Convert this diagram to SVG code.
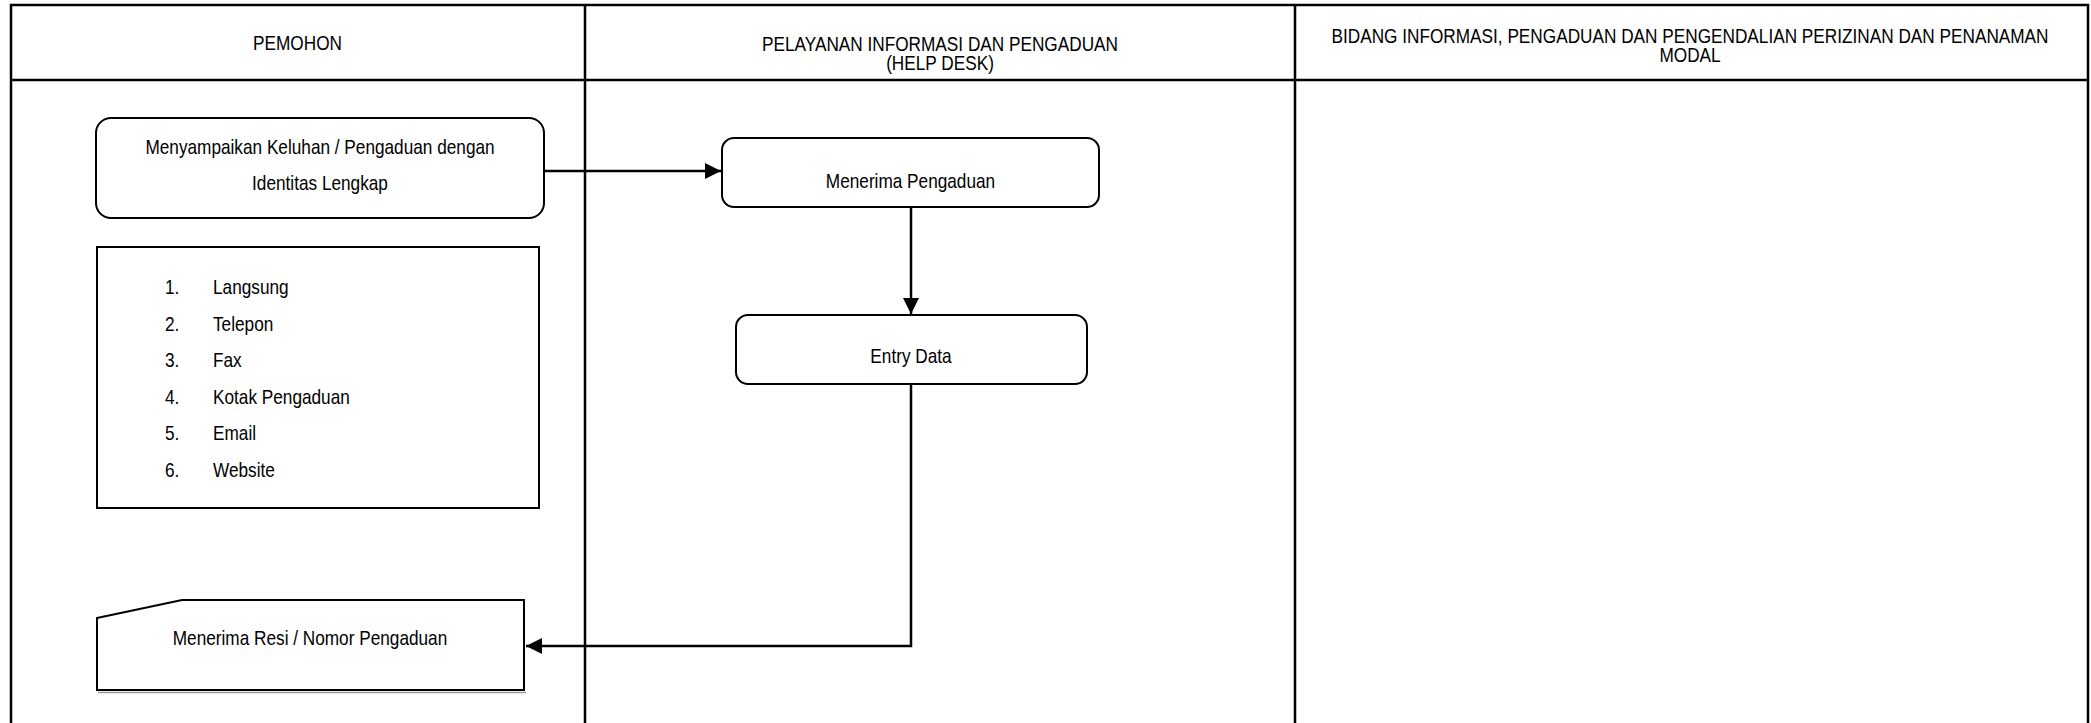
<svg xmlns="http://www.w3.org/2000/svg" width="2091" height="723" viewBox="0 0 2091 723">
<defs>
<style>
text{font-family:"Liberation Sans Narrow","Arial Narrow","Liberation Sans",Arial,sans-serif;font-size:21px;fill:#000}
.c{text-anchor:middle}
.lane{fill:none;stroke:#000;stroke-width:2.5}
.box{fill:#fff;stroke:#000;stroke-width:2}
.conn{fill:none;stroke:#000;stroke-width:2.5}
</style>
<marker id="arr" viewBox="0 0 10 10" refX="10" refY="5" markerWidth="16" markerHeight="16" markerUnits="userSpaceOnUse" orient="auto">
<path d="M0,0 L10,5 L0,10 Z" fill="#000"/>
</marker>
</defs>
<rect width="2091" height="723" fill="#fff"/>
<g id="lanes">
<path class="lane" d="M11,730 V5 H2088 V730"/>
<path class="lane" d="M11,80 H2088"/>
<path class="lane" d="M585,5 V730"/>
<path class="lane" d="M1295,5 V730"/>
<text class="c" transform="matrix(0.82 0 0 1 297.5 0)" x="0" y="50">PEMOHON</text>
<text class="c" transform="matrix(0.82 0 0 1 940 0)" x="0" y="51">PELAYANAN INFORMASI DAN PENGADUAN</text>
<text class="c" transform="matrix(0.82 0 0 1 940 0)" x="0" y="70">(HELP DESK)</text>
<text class="c" transform="matrix(0.82 0 0 1 1690 0)" x="0" y="43">BIDANG INFORMASI, PENGADUAN DAN PENGENDALIAN PERIZINAN DAN PENANAMAN</text>
<text class="c" transform="matrix(0.82 0 0 1 1690 0)" x="0" y="62">MODAL</text>
</g>
<g id="connectors">
<path class="conn" d="M544,171 H721" marker-end="url(#arr)"/>
<path class="conn" d="M911,207 V314" marker-end="url(#arr)"/>
<path class="conn" d="M911,384 V646 H526" marker-end="url(#arr)"/>
</g>
<g id="node-menyampaikan">
<rect class="box" x="96" y="118" width="448" height="100" rx="15" ry="15"/>
<text class="c" transform="matrix(0.82 0 0 1 320 0)" x="0" y="154">Menyampaikan Keluhan / Pengaduan dengan</text>
<text class="c" transform="matrix(0.82 0 0 1 320 0)" x="0" y="190">Identitas Lengkap</text>
</g>
<g id="node-list">
<rect class="box" x="97" y="247" width="442" height="261"/>
<g transform="matrix(0.82 0 0 1 165 0)">
<text x="0" y="294">1.</text>
<text x="0" y="331">2.</text>
<text x="0" y="367">3.</text>
<text x="0" y="404">4.</text>
<text x="0" y="440">5.</text>
<text x="0" y="477">6.</text>
</g>
<g transform="matrix(0.82 0 0 1 213 0)">
<text x="0" y="294">Langsung</text>
<text x="0" y="331">Telepon</text>
<text x="0" y="367">Fax</text>
<text x="0" y="404">Kotak Pengaduan</text>
<text x="0" y="440">Email</text>
<text x="0" y="477">Website</text>
</g>
</g>
<g id="node-menerima">
<rect class="box" x="722" y="138" width="377" height="69" rx="12" ry="12"/>
<text class="c" transform="matrix(0.82 0 0 1 910.5 0)" x="0" y="188">Menerima Pengaduan</text>
</g>
<g id="node-entry">
<rect class="box" x="736" y="315" width="351" height="69" rx="12" ry="12"/>
<text class="c" transform="matrix(0.82 0 0 1 911 0)" x="0" y="363">Entry Data</text>
</g>
<g id="node-resi">
<path d="M98,692.5 H526" stroke="#9a9a9a" stroke-width="1.5"/>
<path class="box" d="M97,618 L182,600 H524 V690 H97 Z"/>
<text class="c" transform="matrix(0.82 0 0 1 310 0)" x="0" y="645">Menerima Resi / Nomor Pengaduan</text>
</g>
</svg>
